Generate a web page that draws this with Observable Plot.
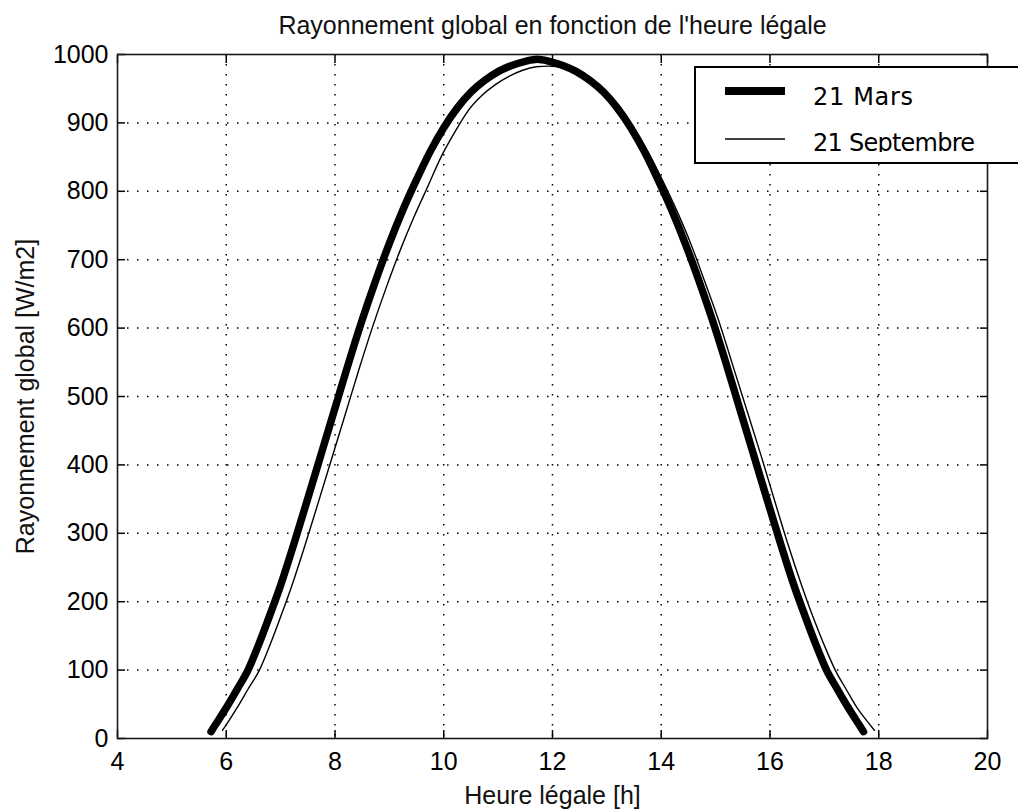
<!DOCTYPE html>
<html>
<head>
<meta charset="utf-8">
<script src="https://cdn.jsdelivr.net/npm/d3@7"></script>
<script src="https://cdn.jsdelivr.net/npm/@observablehq/plot@0.6"></script>
<style>
  html, body { margin: 0; padding: 0; background: #fff; }
  #chart svg { display: block; }
</style>
</head>
<body>
<div id="chart"></div>
<script>
const titleText = "Rayonnement global en fonction de l'heure légale";
const xLabelText = "Heure légale [h]";
const yLabelText = "Rayonnement global [W/m2]";
const seriesNames = ["21 Mars", "21 Septembre"];
const xTicks = [4, 6, 8, 10, 12, 14, 16, 18, 20];
const yTicks = [0, 100, 200, 300, 400, 500, 600, 700, 800, 900, 1000];

const marsHours = [5.72, 5.8, 6.0, 6.2, 6.4, 6.6, 6.8, 7.0, 7.25, 7.5, 7.75, 8.0, 8.25, 8.5, 8.75, 9.0, 9.25, 9.5, 9.75,
  10.0, 10.25, 10.5, 10.75, 11.0, 11.25, 11.5, 11.72,
  11.94, 12.19, 12.44, 12.69, 12.94, 13.19, 13.44, 13.69, 13.94, 14.19, 14.44, 14.69, 14.94, 15.19, 15.44, 15.69,
  15.94, 16.19, 16.44, 16.64, 16.84, 17.04, 17.24, 17.44, 17.64, 17.72];
const marsValues = [10, 20, 45, 72, 100, 138, 180, 224, 286, 351, 417, 483, 549, 612, 670, 724, 773, 817, 858,
  893, 922, 945, 962, 975, 984, 990, 993,
  990, 984, 975, 962, 945, 922, 893, 858, 817, 773, 724, 670, 612, 549, 483, 417,
  351, 286, 224, 180, 138, 100, 72, 45, 20, 10];

const septHours = [5.93, 6.0, 6.2, 6.4, 6.61, 6.8, 7.0, 7.2, 7.45, 7.7, 7.95, 8.2, 8.45, 8.7, 8.95, 9.2, 9.45, 9.7, 9.95,
  10.2, 10.45, 10.7, 10.95, 11.2, 11.45, 11.7, 11.93,
  12.2, 12.46, 12.73, 12.99, 13.25, 13.51, 13.77, 14.03, 14.29, 14.55, 14.8, 15.06, 15.31, 15.57, 15.83,
  16.08, 16.33, 16.59, 16.79, 17.0, 17.2, 17.4, 17.6, 17.84, 17.92];
const septValues = [12, 20, 45, 72, 100, 136, 178, 222, 283, 347, 412, 477, 542, 604, 661, 714, 762, 806, 850,
  886, 918, 940, 956, 968, 977, 982, 983,
  980, 972, 960, 943, 920, 891, 856, 815, 771, 722, 668, 610, 547, 481, 415,
  349, 284, 222, 178, 136, 100, 72, 45, 20, 12];

const mars = marsHours.map((h, i) => ({h, v: marsValues[i]}));
const sept = septHours.map((h, i) => ({h, v: septValues[i]}));

const FONT = "'Liberation Sans', Arial, Helvetica, sans-serif";
const FS = 25;
const noText = () => "";

const plot = Plot.plot({
  width: 1018,
  height: 812,
  marginLeft: 117,
  marginRight: 31,
  marginTop: 54,
  marginBottom: 74,
  style: {fontFamily: FONT, fontSize: FS + "px", background: "#fff", color: "#000", overflow: "visible"},
  x: {domain: [4, 20]},
  y: {domain: [0, 1000]},
  marks: [
    Plot.gridX(xTicks.slice(1, -1), {stroke: "#000", strokeOpacity: 1, strokeWidth: 1.5, strokeDasharray: "1.5,8.5"}),
    Plot.gridY(yTicks.slice(1, -1), {stroke: "#000", strokeOpacity: 1, strokeWidth: 1.5, strokeDasharray: "1.5,8.5"}),
    Plot.axisX(xTicks, {anchor: "bottom", tickSize: -8, tickFormat: noText, label: null, strokeWidth: 1.5}),
    Plot.axisX(xTicks, {anchor: "top", tickSize: -8, tickFormat: noText, label: null, strokeWidth: 1.5}),
    Plot.axisY(yTicks, {anchor: "left", tickSize: -8, tickFormat: noText, label: null, strokeWidth: 1.5}),
    Plot.axisY(yTicks, {anchor: "right", tickSize: -8, tickFormat: noText, label: null, strokeWidth: 1.5}),
    Plot.axisX(xTicks, {anchor: "bottom", tickSize: 0, tickPadding: 14, label: null, fontSize: FS, tickFormat: d => String(d)}),
    Plot.axisY(yTicks, {anchor: "left", tickSize: 0, tickPadding: 9, label: null, fontSize: FS, tickFormat: d => String(d)}),
    Plot.line(sept, {x: "h", y: "v", stroke: "#000", strokeWidth: 1.4, curve: "monotone-x"}),
    Plot.line(mars, {x: "h", y: "v", stroke: "#000", strokeWidth: 7.5, curve: "monotone-x"}),
    Plot.frame({stroke: "#1a1a1a", strokeWidth: 1.6}),
    Plot.text([titleText], {frameAnchor: "top", dy: -29, textAnchor: "middle", lineAnchor: "middle", fontSize: FS, fill: "#111"}),
    Plot.text([xLabelText], {frameAnchor: "bottom", dy: 57, textAnchor: "middle", lineAnchor: "middle", fontSize: FS, fill: "#111"}),
    Plot.text([yLabelText], {frameAnchor: "left", dx: -92, rotate: -90, textAnchor: "middle", lineAnchor: "middle", fontSize: FS, fill: "#111"})
  ]
});

document.getElementById("chart").appendChild(plot);

// Legend (box partly beyond the right edge, as in the reference)
const svg = d3.select(plot);
const defs = svg.append("defs");
defs.append("clipPath").attr("id", "lgclip").append("rect")
  .attr("x", 690).attr("y", 60).attr("width", 400).attr("height", 92);
const lg = svg.append("g").attr("class", "legend").attr("text-anchor", "start");
lg.append("rect").attr("x", 695).attr("y", 67).attr("width", 340).attr("height", 96)
  .attr("fill", "#fff").attr("stroke", "#000").attr("stroke-width", 2);
lg.append("line").attr("x1", 725).attr("x2", 785).attr("y1", 91).attr("y2", 91)
  .attr("stroke", "#000").attr("stroke-width", 8);
lg.append("line").attr("x1", 725).attr("x2", 785).attr("y1", 139).attr("y2", 139)
  .attr("stroke", "#000").attr("stroke-width", 1.4);
const legendFont = "'DejaVu Sans', 'Noto Sans', sans-serif";
lg.append("text").attr("x", 813).attr("y", 105).attr("text-anchor", "start")
  .attr("font-family", legendFont).attr("font-size", 24)
  .attr("textLength", 100).attr("fill", "#000").text(seriesNames[0]);
lg.append("text").attr("x", 813).attr("y", 151).attr("text-anchor", "start")
  .attr("font-family", legendFont).attr("font-size", 24)
  .attr("textLength", 162).attr("clip-path", "url(#lgclip)").attr("fill", "#000").text(seriesNames[1]);
</script>
</body>
</html>
